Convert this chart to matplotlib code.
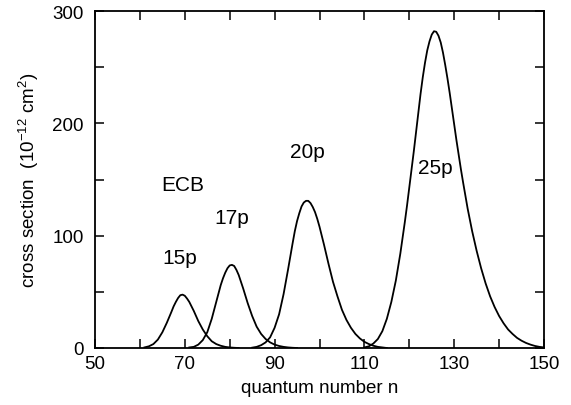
import matplotlib
matplotlib.use("Agg")
import matplotlib.pyplot as plt

plt.rcParams['font.family'] = ['Liberation Sans', 'DejaVu Sans']
plt.rcParams['mathtext.fontset'] = 'custom'
plt.rcParams['mathtext.rm'] = 'Liberation Sans'
plt.rcParams['mathtext.it'] = 'Liberation Sans:italic'

# cross sections (1e-12 cm^2) vs principal quantum number n
n_15p = [61, 62, 63, 64, 65, 66, 67, 67.5, 68, 68.5, 69, 69.5, 70, 70.5, 71,
         72, 73, 74, 75, 76, 77, 78, 79, 80, 81, 82]
cs_15p = [0.5, 1.5, 3.5, 7.5, 14, 22.5, 32, 37, 41, 44.5, 47, 47.5, 46.5, 44,
          41, 33, 24, 16.5, 10.5, 6, 3.5, 2, 1, 0.5, 0.2, 0]

n_17p = [71, 72, 73, 74, 75, 76, 77, 78, 78.5, 79, 79.5, 80, 80.5, 81, 81.5,
         82, 83, 84, 85, 86, 87, 88, 89, 90, 91, 92, 93, 94, 95]
cs_17p = [0.5, 1, 3, 7, 14, 26, 41, 56, 62, 67, 71, 73.5, 74, 73, 69.5,
          65, 53, 40, 28.5, 19, 12.5, 8, 5, 3, 1.8, 1, 0.5, 0.2, 0]

n_20p = [85, 86, 87, 88, 89, 90, 91, 92, 93, 94, 94.5, 95, 95.5, 96, 96.5,
         97, 97.5, 98, 98.5, 99, 99.5, 100, 101, 102, 103, 104, 105, 106, 107,
         108, 109, 110, 111, 112, 113, 114, 115]
cs_20p = [0.3, 1, 2.5, 5, 9.5, 18, 30, 48, 70, 93, 104, 113, 120, 126, 129.5,
          131, 131, 129, 125.5, 121, 115, 108, 92, 75, 59, 46, 34, 25, 18,
          12.5, 8.5, 5.5, 3.5, 2, 1, 0.5, 0]

n_25p = [110, 111, 112, 113, 114, 115, 116, 117, 118, 119, 119.5, 120, 120.5,
         121, 121.5, 122, 122.5, 123, 123.5, 124, 124.5, 125, 125.5, 126,
         126.5, 127, 127.5, 128, 128.5, 129, 129.5, 130, 130.5, 131, 131.5,
         132, 133, 134, 135, 136, 137, 138, 139, 140, 141, 142, 143, 144, 145,
         146, 147, 148, 149, 150]
cs_25p = [0.5, 1.5, 4, 8, 15, 26, 41, 60, 84, 112, 127, 143, 159,
          175, 192, 209, 226, 241, 254, 265, 273, 279, 282, 281.5,
          278, 272, 263, 252, 240, 227, 213, 199, 185, 172, 159,
          147, 124, 104, 86.5, 71, 57.5, 46, 36.5, 28.5, 22, 16.5, 12.5, 9, 6.5,
          4.5, 3, 1.8, 1, 0.5]

labels = ['15p', '17p', '20p', '25p']
label_pos = [(68.9, 81), (80.5, 116), (97.2, 175), (125.9, 161)]

fig = plt.figure(figsize=(5.71, 4.06), dpi=100)
ax = fig.add_axes([0.1664, 0.1404, 0.7863, 0.83])

for n, cs in [(n_15p, cs_15p), (n_17p, cs_17p), (n_20p, cs_20p), (n_25p, cs_25p)]:
    ax.plot(n, cs, color='black', lw=1.3)

for lab, (x, y) in zip(labels, label_pos):
    ax.text(x, y, lab, fontsize=15, ha='center', va='center')
ax.text(69.6, 146, 'ECB', fontsize=15, ha='center', va='center')

ax.set_xlim(50, 150)
ax.set_ylim(0, 300)
ax.set_xticks(range(50, 151, 10))
ax.set_xticklabels([str(v) if (v - 50) % 20 == 0 else '' for v in range(50, 151, 10)])
ax.set_yticks(range(0, 301, 50))
ax.set_yticklabels([str(v) if v % 100 == 0 else '' for v in range(0, 301, 50)])
ax.tick_params(direction='in', length=6.5, width=1.1, top=True, right=True,
               labelsize=13.5)
ax.tick_params(axis='y', pad=8)
ax.tick_params(axis='x', pad=5)
for s in ax.spines.values():
    s.set_linewidth(1.3)

ax.set_xlabel('quantum number n', fontsize=13.5, labelpad=5)
ax.set_ylabel(r'cross section  (10$^{-12}$ cm$^{2}$)', fontsize=13.5, labelpad=8)

fig.savefig('out.png', dpi=100)
